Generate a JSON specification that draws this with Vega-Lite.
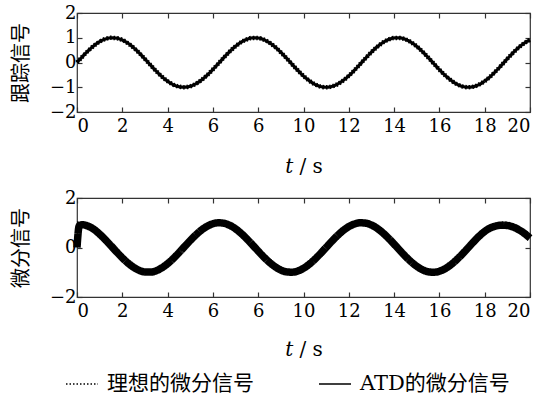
{
  "$schema": "https://vega.github.io/schema/vega-lite/v6.json",
  "padding": {"left": 10, "top": 3, "right": 0, "bottom": 5},
  "bounds": "flush",
  "spacing": 86,
  "config": {
    "view": {"stroke": "#333", "strokeWidth": 1.2},
    "axis": {
      "grid": false, "domain": false, "tickColor": "#333", "tickSize": -5, "tickWidth": 1.2,
      "labelFont": "DejaVu Serif", "labelFontSize": 18, "labelColor": "#000",
      "titleColor": "#000", "titleFontWeight": "normal"
    }
  },
  "datasets": {
    "sin": [
      {"t":0,"y":0},{"t":0.25,"y":0.2474},{"t":0.5,"y":0.4794},{"t":0.75,"y":0.6816},{"t":1,"y":0.8415},{"t":1.25,"y":0.949},{"t":1.5,"y":0.9975},{"t":1.75,"y":0.984},{"t":2,"y":0.9093},{"t":2.25,"y":0.7781},{"t":2.5,"y":0.5985},{"t":2.75,"y":0.3817},{"t":3,"y":0.1411},{"t":3.25,"y":-0.1082},{"t":3.5,"y":-0.3508},{"t":3.75,"y":-0.5716},{"t":4,"y":-0.7568},{"t":4.25,"y":-0.895},{"t":4.5,"y":-0.9775},{"t":4.75,"y":-0.9993},{"t":5,"y":-0.9589},{"t":5.25,"y":-0.8589},{"t":5.5,"y":-0.7055},{"t":5.75,"y":-0.5083},{"t":6,"y":-0.2794},{"t":6.25,"y":-0.0332},{"t":6.5,"y":0.2151},{"t":6.75,"y":0.45},{"t":7,"y":0.657},{"t":7.25,"y":0.8233},{"t":7.5,"y":0.938},{"t":7.75,"y":0.9946},{"t":8,"y":0.9894},{"t":8.25,"y":0.9227},{"t":8.5,"y":0.7984},{"t":8.75,"y":0.6247},{"t":9,"y":0.4121},{"t":9.25,"y":0.1743},{"t":9.5,"y":-0.0752},{"t":9.75,"y":-0.3195},{"t":10,"y":-0.544},{"t":10.25,"y":-0.7332},{"t":10.5,"y":-0.8797},{"t":10.75,"y":-0.97},{"t":11,"y":-1},{"t":11.25,"y":-0.9678},{"t":11.5,"y":-0.8755},{"t":11.75,"y":-0.7287},{"t":12,"y":-0.5366},{"t":12.25,"y":-0.3112},{"t":12.5,"y":-0.0663},{"t":12.75,"y":0.1826},{"t":13,"y":0.4202},{"t":13.25,"y":0.6316},{"t":13.5,"y":0.8038},{"t":13.75,"y":0.926},{"t":14,"y":0.9906},{"t":14.25,"y":0.9937},{"t":14.5,"y":0.9349},{"t":14.75,"y":0.8183},{"t":15,"y":0.6503},{"t":15.25,"y":0.4423},{"t":15.5,"y":0.2065},{"t":15.75,"y":-0.042},{"t":16,"y":-0.2879},{"t":16.25,"y":-0.5158},{"t":16.5,"y":-0.7118},{"t":16.75,"y":-0.8636},{"t":17,"y":-0.9614},{"t":17.25,"y":-0.9995},{"t":17.5,"y":-0.976},{"t":17.75,"y":-0.8917},{"t":18,"y":-0.751},{"t":18.25,"y":-0.5637},{"t":18.5,"y":-0.3425},{"t":18.75,"y":-0.0994},{"t":19,"y":0.1499},{"t":19.25,"y":0.3898},{"t":19.5,"y":0.6055},{"t":19.75,"y":0.7837},{"t":20,"y":0.9129}
    ],
    "cos": [
      {"t":0,"y":1},{"t":0.25,"y":0.9689},{"t":0.5,"y":0.8776},{"t":0.75,"y":0.7317},{"t":1,"y":0.5403},{"t":1.25,"y":0.3153},{"t":1.5,"y":0.0707},{"t":1.75,"y":-0.1782},{"t":2,"y":-0.4161},{"t":2.25,"y":-0.6282},{"t":2.5,"y":-0.8011},{"t":2.75,"y":-0.9243},{"t":3,"y":-0.99},{"t":3.25,"y":-0.9941},{"t":3.5,"y":-0.9365},{"t":3.75,"y":-0.8206},{"t":4,"y":-0.6536},{"t":4.25,"y":-0.4461},{"t":4.5,"y":-0.2108},{"t":4.75,"y":0.0376},{"t":5,"y":0.2837},{"t":5.25,"y":0.5122},{"t":5.5,"y":0.7087},{"t":5.75,"y":0.8612},{"t":6,"y":0.9602},{"t":6.25,"y":0.9994},{"t":6.5,"y":0.9766},{"t":6.75,"y":0.893},{"t":7,"y":0.7539},{"t":7.25,"y":0.5676},{"t":7.5,"y":0.3466},{"t":7.75,"y":0.1036},{"t":8,"y":-0.1455},{"t":8.25,"y":-0.3857},{"t":8.5,"y":-0.602},{"t":8.75,"y":-0.7809},{"t":9,"y":-0.9111},{"t":9.25,"y":-0.9847},{"t":9.5,"y":-0.9972},{"t":9.75,"y":-0.9476},{"t":10,"y":-0.8391},{"t":10.25,"y":-0.68},{"t":10.5,"y":-0.4755},{"t":10.75,"y":-0.2431},{"t":11,"y":0.0044},{"t":11.25,"y":0.2517},{"t":11.5,"y":0.4833},{"t":11.75,"y":0.6849},{"t":12,"y":0.8439},{"t":12.25,"y":0.9503},{"t":12.5,"y":0.9978},{"t":12.75,"y":0.9832},{"t":13,"y":0.9074},{"t":13.25,"y":0.7753},{"t":13.5,"y":0.5949},{"t":13.75,"y":0.3776},{"t":14,"y":0.1367},{"t":14.25,"y":-0.1124},{"t":14.5,"y":-0.3549},{"t":14.75,"y":-0.5748},{"t":15,"y":-0.7597},{"t":15.25,"y":-0.8969},{"t":15.5,"y":-0.9785},{"t":15.75,"y":-0.9991},{"t":16,"y":-0.9577},{"t":16.25,"y":-0.8567},{"t":16.5,"y":-0.7024},{"t":16.75,"y":-0.5042},{"t":17,"y":-0.2752},{"t":17.25,"y":-0.0289},{"t":17.5,"y":0.2194},{"t":17.75,"y":0.4527},{"t":18,"y":0.6603},{"t":18.25,"y":0.826},{"t":18.5,"y":0.9395},{"t":18.75,"y":0.995},{"t":19,"y":0.9887},{"t":19.25,"y":0.9209},{"t":19.5,"y":0.7958},{"t":19.75,"y":0.6212},{"t":20,"y":0.4081}
    ],
    "atd": [
      {"t":0,"y":0},{"t":0.1,"y":0.88},{"t":0.25,"y":0.92},{"t":0.5,"y":0.86},{"t":0.75,"y":0.73},{"t":1,"y":0.5403},{"t":1.25,"y":0.3153},{"t":1.5,"y":0.0707},{"t":1.75,"y":-0.1782},{"t":2,"y":-0.4161},{"t":2.25,"y":-0.6282},{"t":2.5,"y":-0.8011},{"t":2.75,"y":-0.9243},{"t":3,"y":-0.99},{"t":3.25,"y":-0.9941},{"t":3.5,"y":-0.9365},{"t":3.75,"y":-0.8206},{"t":4,"y":-0.6536},{"t":4.25,"y":-0.4461},{"t":4.5,"y":-0.2108},{"t":4.75,"y":0.0376},{"t":5,"y":0.2837},{"t":5.25,"y":0.5122},{"t":5.5,"y":0.7087},{"t":5.75,"y":0.8612},{"t":6,"y":0.9602},{"t":6.25,"y":0.9994},{"t":6.5,"y":0.9766},{"t":6.75,"y":0.893},{"t":7,"y":0.7539},{"t":7.25,"y":0.5676},{"t":7.5,"y":0.3466},{"t":7.75,"y":0.1036},{"t":8,"y":-0.1455},{"t":8.25,"y":-0.3857},{"t":8.5,"y":-0.602},{"t":8.75,"y":-0.7809},{"t":9,"y":-0.9111},{"t":9.25,"y":-0.9847},{"t":9.5,"y":-0.9972},{"t":9.75,"y":-0.9476},{"t":10,"y":-0.8391},{"t":10.25,"y":-0.68},{"t":10.5,"y":-0.4755},{"t":10.75,"y":-0.2431},{"t":11,"y":0.0044},{"t":11.25,"y":0.2517},{"t":11.5,"y":0.4833},{"t":11.75,"y":0.6849},{"t":12,"y":0.8439},{"t":12.25,"y":0.9503},{"t":12.5,"y":0.9978},{"t":12.75,"y":0.9832},{"t":13,"y":0.9074},{"t":13.25,"y":0.7753},{"t":13.5,"y":0.5949},{"t":13.75,"y":0.3776},{"t":14,"y":0.1367},{"t":14.25,"y":-0.1124},{"t":14.5,"y":-0.3549},{"t":14.75,"y":-0.5748},{"t":15,"y":-0.7597},{"t":15.25,"y":-0.8969},{"t":15.5,"y":-0.9785},{"t":15.75,"y":-0.9991},{"t":16,"y":-0.9577},{"t":16.25,"y":-0.8567},{"t":16.5,"y":-0.7024},{"t":16.75,"y":-0.5042},{"t":17,"y":-0.2752},{"t":17.25,"y":-0.0289},{"t":17.5,"y":0.2194},{"t":17.75,"y":0.4527},{"t":18,"y":0.6503},{"t":18.25,"y":0.79},{"t":18.5,"y":0.87},{"t":18.75,"y":0.9},{"t":19,"y":0.89},{"t":19.25,"y":0.83},{"t":19.5,"y":0.72},{"t":19.75,"y":0.57},{"t":20,"y":0.38}
    ]
  },
  "vconcat": [
    {
      "width": 453, "height": 99,
      "layer": [
        {
          "data": {"name": "sin"},
          "mark": {"type": "line", "color": "black", "strokeWidth": 4.5, "interpolate": "monotone"},
          "encoding": {
            "x": {"field": "t", "type": "quantitative", "scale": {"domain": [0, 20], "nice": false},
                  "axis": {"orient": "top", "values": [0,2,4,6,8,10,12,14,16,18,20], "labels": false, "title": null}},
            "y": {"field": "y", "type": "quantitative", "scale": {"domain": [-2, 2], "nice": false},
                  "axis": {"orient": "right", "values": [-2,-1,0,1,2], "labels": false, "title": null}},
            "strokeDash": {"datum": "理想的微分信号", "type": "nominal",
              "scale": {"domain": ["理想的微分信号", "ATD的微分信号"], "range": [[1.5, 2], [1, 0]]},
              "legend": {"orient": "none", "legendX": -12, "legendY": 354, "direction": "horizontal", "title": null,
                "symbolType": "stroke", "symbolSize": 1024, "symbolStrokeWidth": 1.5, "symbolStrokeColor": "black",
                "labelFont": "DejaVu Serif, Noto Sans CJK SC", "labelFontSize": 21, "labelColor": "#000", "labelOffset": 8, "columnPadding": 62, "labelLimit": 300}}
          }
        },
        {
          "data": {"name": "sin"},
          "mark": {"type": "line", "color": "black", "strokeWidth": 3.2, "interpolate": "monotone"},
          "encoding": {
            "x": {"field": "t", "type": "quantitative",
                  "axis": {"orient": "bottom", "values": [0,2,4,6,8,10,12,14,16,18,20], "labelPadding": 10,
                           "labelFont": "DejaVu Serif", "labelFontSize": 18,
                           "labelExpr": "datum.value == 8 ? '6' : datum.label",
                           "title": "𝑡 / s", "titleFont": "DejaVu Serif", "titleFontSize": 20, "titlePadding": 21}},
            "y": {"field": "y", "type": "quantitative",
                  "axis": {"orient": "left", "values": [-2,-1,0,1,2], "labelPadding": 6,
                           "labelFont": "DejaVu Serif", "labelFontSize": 18,
                           "title": "跟踪信号", "titleFont": "Noto Sans CJK SC", "titleFontSize": 20, "titlePadding": 18}},
            "strokeDash": {"datum": "ATD的微分信号", "type": "nominal"}
          }
        }
      ],
      "resolve": {"axis": {"x": "independent", "y": "independent"}}
    },
    {
      "width": 453, "height": 99,
      "layer": [
        {
          "data": {"name": "cos"},
          "mark": {"type": "line", "color": "black", "strokeWidth": 3, "interpolate": "monotone"},
          "encoding": {
            "x": {"field": "t", "type": "quantitative", "scale": {"domain": [0, 20], "nice": false},
                  "axis": {"orient": "top", "values": [0,2,4,6,8,10,12,14,16,18,20], "labels": false, "title": null}},
            "y": {"field": "y", "type": "quantitative", "scale": {"domain": [-2, 2], "nice": false},
                  "axis": {"orient": "right", "values": [-2,0,2], "labels": false, "title": null}},
            "strokeDash": {"datum": "理想的微分信号", "type": "nominal"}
          }
        },
        {
          "data": {"name": "atd"},
          "mark": {"type": "line", "color": "black", "strokeWidth": 7.5, "interpolate": "monotone"},
          "encoding": {
            "x": {"field": "t", "type": "quantitative",
                  "axis": {"orient": "bottom", "values": [0,2,4,6,8,10,12,14,16,18,20], "labelPadding": 10,
                           "labelFont": "DejaVu Serif", "labelFontSize": 18,
                           "labelExpr": "datum.value == 8 ? '6' : datum.label",
                           "title": "𝑡 / s", "titleFont": "DejaVu Serif", "titleFontSize": 20, "titlePadding": 19}},
            "y": {"field": "y", "type": "quantitative",
                  "axis": {"orient": "left", "values": [-2,0,2], "labelPadding": 6,
                           "labelFont": "DejaVu Serif", "labelFontSize": 18,
                           "title": "微分信号", "titleFont": "Noto Sans CJK SC", "titleFontSize": 20, "titlePadding": 18}},
            "strokeDash": {"datum": "ATD的微分信号", "type": "nominal"}
          }
        }
      ],
      "resolve": {"axis": {"x": "independent", "y": "independent"}}
    }
  ]
}
